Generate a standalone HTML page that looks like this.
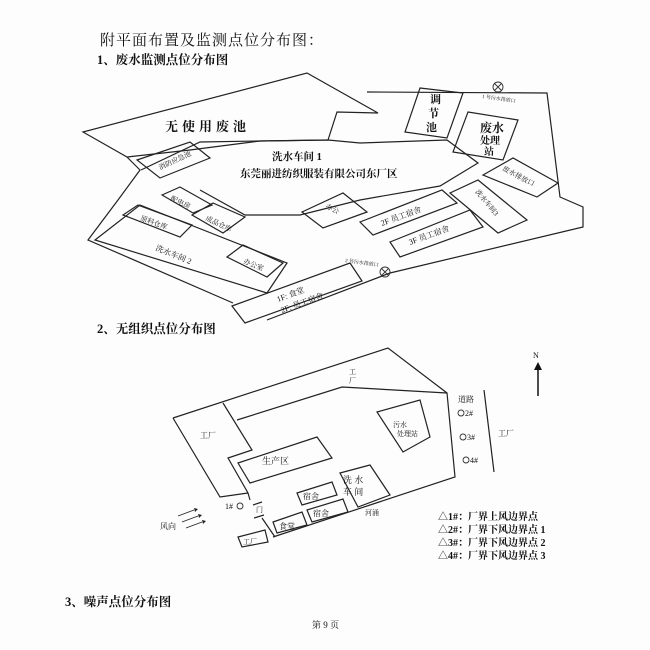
<!DOCTYPE html>
<html><head><meta charset="utf-8"><style>
html,body{margin:0;padding:0;background:#fff;}
svg{display:block;}
text{font-family:"Liberation Serif","Noto Serif CJK SC","Noto Sans CJK SC",serif;fill:#111;}
.s{fill:none;stroke:#222;stroke-width:1.2;}
.t{stroke:#333;stroke-width:0.9;fill:none;}
</style></head><body>
<svg width="650" height="650" viewBox="0 0 650 650" xmlns="http://www.w3.org/2000/svg">
<rect width="650" height="650" fill="#fdfdfd"/>
<text x="100" y="45" font-size="15" letter-spacing="1">附平面布置及监测点位分布图：</text>
<text x="97" y="64" font-size="12.5" font-weight="bold">1、废水监测点位分布图</text>

<!-- top diagram -->
<polygon class="s" points="83,132 307,73 378,113 337,112 328,140 260,141 190,150 127,157"/>
<polyline class="s" points="127,157 140,170 118,200 88,240 233,303"/>
<polyline class="s" points="267,320 390,273 583,227 583,207 560,197 547,93 367,92"/>
<polyline class="s" points="141,170 200,142 260,141 328,140 360,143 447,140 478,163 440,186 360,200 300,215 245,215 200,190"/>
<polygon class="s" points="420,88 463,93 447,138 405,132"/>
<polygon class="s" points="468,112 518,120 503,160 453,152"/>
<polygon class="s" points="137,160 190,142 210,158 160,178"/>
<polygon class="s" points="162,195 180,187 212,205 193,213"/>
<polygon class="s" points="192,215 213,203 245,217 223,233"/>
<polygon class="s" points="123,215 138,205 192,225 180,237"/>
<polygon class="s" points="95,240 140,205 287,263 267,293"/>
<polygon class="s" points="227,257 243,245 283,263 267,277"/>
<polygon class="s" points="232,306 350,263 362,281 245,323"/>
<polygon class="s" points="302,212 343,193 367,212 323,228"/>
<polygon class="s" points="360,222 442,190 457,203 373,235"/>
<polygon class="s" points="390,242 470,210 483,227 400,257"/>
<polygon class="s" points="450,193 478,180 527,220 498,233"/>
<polygon class="s" points="483,175 513,158 558,183 537,197"/>
<circle class="t" cx="498" cy="87" r="5"/><path class="t" d="M494.5,83.5l7,7M501.5,83.5l-7,7"/>
<circle class="t" cx="385" cy="272" r="5"/><path class="t" d="M381.5,268.5l7,7M388.5,268.5l-7,7"/>
<text x="165" y="131" font-size="13" font-weight="bold" letter-spacing="4">无使用废池</text>
<text x="272" y="160" font-size="10.5" font-weight="bold">洗水车间 1</text>
<text x="240" y="177" font-size="10.5" font-weight="bold">东莞丽进纺织服装有限公司东厂区</text>
<text x="430" y="103" font-size="11" font-weight="bold">调</text>
<text x="428" y="117" font-size="11" font-weight="bold">节</text>
<text x="426" y="131" font-size="11" font-weight="bold">池</text>
<text x="480" y="132" font-size="12" font-weight="bold">废水</text>
<text x="480" y="144" font-size="10" font-weight="bold">处理</text>
<text x="484" y="155" font-size="10" font-weight="bold">站</text>
<text x="0" y="0" font-size="7" transform="translate(160,170) rotate(-25)">消防应急池</text>
<text x="0" y="0" font-size="7" transform="translate(170,200) rotate(25)">配电房</text>
<text x="0" y="0" font-size="7" transform="translate(205,220) rotate(25)">成品仓库</text>
<text x="0" y="0" font-size="7" transform="translate(140,220) rotate(20)">原料仓库</text>
<text x="0" y="0" font-size="8" transform="translate(155,250) rotate(22)">洗水车间 2</text>
<text x="0" y="0" font-size="7" transform="translate(243,263) rotate(22)">办公室</text>
<text x="0" y="0" font-size="8" transform="translate(278,302) rotate(-20)">1F: 食堂</text>
<text x="0" y="0" font-size="8" transform="translate(282,313) rotate(-20)">2F: 员工宿舍</text>
<text x="0" y="0" font-size="7" transform="translate(325,208) rotate(25)">办公</text>
<text x="0" y="0" font-size="8" transform="translate(382,226) rotate(-20)">2F 员工宿舍</text>
<text x="0" y="0" font-size="8" transform="translate(410,245) rotate(-20)">3F 员工宿舍</text>
<text x="0" y="0" font-size="7" transform="translate(475,192) rotate(50)">洗水车间3</text>
<text x="0" y="0" font-size="7" transform="translate(502,170) rotate(28)">废水排放口</text>
<text x="0" y="0" font-size="5" transform="translate(482,98) rotate(8)">1 号污水排放口</text>
<text x="0" y="0" font-size="5" transform="translate(345,262) rotate(8)">2 号污水排放口</text>

<text x="97" y="333" font-size="12.5" font-weight="bold">2、无组织点位分布图</text>

<!-- bottom diagram -->
<polyline class="s" points="173,418 388,348 447,393 455,477 273,537"/>
<polyline class="s" points="173,418 220,497 248,493"/>
<polyline class="s" points="223,403 252,450 228,458 248,493 250,500"/>
<polyline class="s" points="237,420 342,387 447,393"/>
<polygon class="s" points="238,463 317,437 332,458 250,483"/>
<polygon class="s" points="377,412 420,400 430,437 403,452"/>
<polygon class="s" points="340,473 370,465 390,495 358,507"/>
<polygon class="s" points="297,493 332,482 337,495 302,505"/>
<polygon class="s" points="307,510 343,499 348,512 312,522"/>
<polygon class="s" points="273,522 302,512 307,525 277,533"/>
<polygon class="s" points="238,537 265,530 268,542 242,547"/>
<line class="s" x1="253" y1="505" x2="262" y2="502"/>
<line class="s" x1="254" y1="518" x2="264" y2="515"/>
<line class="s" x1="262" y1="518" x2="275" y2="537"/>
<line class="s" x1="484" y1="390" x2="494" y2="472"/>
<line x1="538" y1="396" x2="538" y2="368" stroke="#111" stroke-width="1.5"/>
<polygon points="534,370 538,362 542,370" fill="#111"/>
<text x="533" y="358" font-size="8">N</text>
<text x="349" y="374" font-size="7">工</text>
<text x="349" y="383" font-size="7">厂</text>
<text x="200" y="438" font-size="8">工厂</text>
<text x="262" y="464" font-size="9">生产区</text>
<text x="393" y="427" font-size="7">污水</text>
<text x="397" y="436" font-size="7">处理站</text>
<text x="343" y="483" font-size="9">洗 水</text>
<text x="343" y="495" font-size="9">车 间</text>
<text x="303" y="499" font-size="8">宿舍</text>
<text x="313" y="516" font-size="8">宿舍</text>
<text x="279" y="529" font-size="8">食堂</text>
<text x="243" y="544" font-size="7">工厂</text>
<text x="256" y="512" font-size="7">门</text>
<text x="365" y="515" font-size="7">河涌</text>
<text x="458" y="402" font-size="8">道路</text>
<text x="498" y="436" font-size="8">工厂</text>
<circle class="t" cx="461" cy="413" r="3"/><text x="465" y="416" font-size="8">2#</text>
<circle class="t" cx="463" cy="437" r="3"/><text x="467" y="440" font-size="8">3#</text>
<circle class="t" cx="466" cy="460" r="3"/><text x="470" y="463" font-size="8">4#</text>
<text x="225" y="509" font-size="8">1#</text><circle class="t" cx="240" cy="506" r="3"/>
<text x="160" y="529" font-size="8">风向</text>
<g stroke="#222" stroke-width="0.9"><line x1="178" y1="516" x2="194" y2="510"/><line x1="182" y1="522" x2="198" y2="516"/><line x1="186" y1="528" x2="202" y2="522"/></g>
<g fill="#222"><polygon points="194,508 198,509 195,512"/><polygon points="198,514 202,515 199,518"/><polygon points="202,520 206,521 203,524"/></g>
<g font-size="10" font-weight="bold">
<text x="438" y="520">△1#：厂界上风边界点</text>
<text x="438" y="533">△2#：厂界下风边界点 1</text>
<text x="438" y="546">△3#：厂界下风边界点 2</text>
<text x="438" y="559">△4#：厂界下风边界点 3</text>
</g>
<text x="65" y="606" font-size="12.5" font-weight="bold">3、噪声点位分布图</text>
<text x="312" y="628" font-size="9">第 9 页</text>
</svg>
</body></html>
